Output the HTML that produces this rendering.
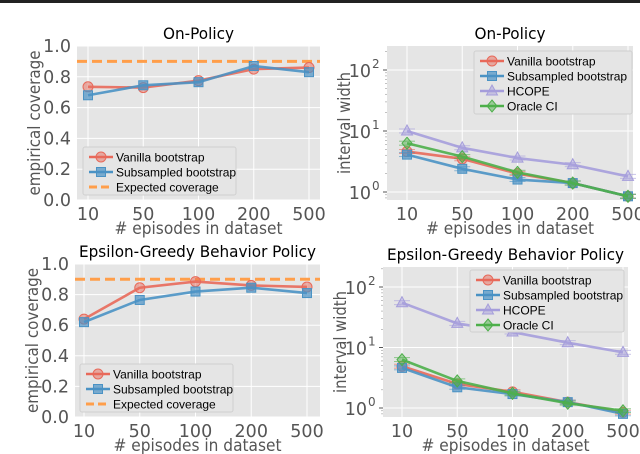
<!DOCTYPE html>
<html><head><meta charset="utf-8"><style>
body{margin:0;background:#fff;width:640px;height:454px;overflow:hidden}
svg{display:block;font-family:"DejaVu Sans","Liberation Sans",sans-serif}
</style></head><body>
<svg id="c" width="640" height="454" viewBox="0 0 640 454">
<rect x="0" y="0" width="640" height="3" fill="#222"/>
</svg>
<script>
const categories = ["10","50","100","200","500"];
const covTicks = ["0.0","0.2","0.4","0.6","0.8","1.0"];
const expectedCoverage = 0.9;
const onVanilla = [0.735,0.73,0.775,0.85,0.86];
const onSub = [0.68,0.745,0.765,0.87,0.83];
const egVanilla = [0.64,0.845,0.885,0.86,0.85];
const egSub = [0.62,0.765,0.82,0.845,0.81];
const onWVanilla = [4.6,3.5,2.0,1.4,0.85];
const onWSub = [4.1,2.4,1.6,1.4,0.85];
const onWHcope = [10,5.3,3.6,2.8,1.8];
const onWOracle = [6.3,3.8,2.1,1.4,0.85];
const egWVanilla = [4.9,2.5,1.85,1.25,0.85];
const egWSub = [4.6,2.2,1.7,1.25,0.8];
const egWHcope = [55,25,18,12,8.3];
const egWOracle = [6.3,2.8,1.75,1.2,0.9];
const seriesNames = ["Vanilla bootstrap","Subsampled bootstrap","HCOPE","Oracle CI","Expected coverage"];

const NS="http://www.w3.org/2000/svg";
const svg=document.getElementById('c');
function el(tag,attrs,parent,text){const e=document.createElementNS(NS,tag);for(const k in attrs)e.setAttribute(k,attrs[k]);if(text!==undefined)e.textContent=text;(parent||svg).appendChild(e);return e;}
const COL={v:"#e8695a",s:"#4a92c4",h:"#a59ddb",o:"#4daf4a",e:"#ff9e4a"};

function marker(g,type,x,y,c){
  let m;
  if(type==='v'){m=el('circle',{cx:x,cy:y,r:5,fill:c,'fill-opacity':0.5,stroke:c},g);}
  else if(type==='s'){m=el('rect',{x:x-4.5,y:y-4.5,width:9,height:9,fill:c,'fill-opacity':0.7,stroke:c},g);}
  else if(type==='h'){m=el('path',{d:`M${x} ${y-6}L${x+5.5} ${y+4}L${x-5.5} ${y+4}Z`,fill:c,'fill-opacity':0.5,stroke:c},g);}
  else {m=el('path',{d:`M${x} ${y-6}L${x+5} ${y}L${x} ${y+6}L${x-5} ${y}Z`,fill:c,'fill-opacity':0.5,stroke:c},g);}
  
  
}

function panel(p){
  const g=el('g',{},svg);
  
  
  el('rect',{x:p.x0,y:p.y0,width:p.x1-p.x0,height:p.y1-p.y0,fill:"#e5e5e5"},g);
  const xs=i=>p.xt[0]+i*(p.xt[1]-p.xt[0])/(categories.length-1);
  let ys;
  if(p.log){ys=v=>p.yDec0-Math.log10(v)*p.dec;}
  else{ys=v=>p.y1-v*(p.y1-p.y0);}
  if(p.log){
    for(let d=-1;d<=2;d++){for(let k=1;k<10;k++){const y=ys(k*Math.pow(10,d));if(y<p.y0||y>p.y1)continue;
      if(k===1){el('line',{x1:p.x0,x2:p.x1,y1:y,y2:y,stroke:"#fff","stroke-width":1},g);
        el('line',{x1:p.x0-4,x2:p.x0,y1:y,y2:y,stroke:"#555"},g);
        const t=el('text',{x:p.x0-16,y:y+7,'text-anchor':'end','font-size':17.5,fill:"#555"},g,"10");
        
        const e=el('text',{x:p.x0-15,y:y-2,'font-size':12,fill:"#555"},g,String(d));
        
      } else el('line',{x1:p.x0-2,x2:p.x0,y1:y,y2:y,stroke:"#999","stroke-width":0.6},g);
    }}
  } else {
    covTicks.forEach(s=>{const y=ys(parseFloat(s));
      el('line',{x1:p.x0,x2:p.x1,y1:y,y2:y,stroke:"#fff"},g);
      const t=el('text',{x:p.x0-6,y:y+6,'text-anchor':'end','font-size':17.5,fill:"#555"},g,s);
      });
  }
  categories.forEach((c,i)=>{const x=xs(i);
    el('line',{x1:x,x2:x,y1:p.y0,y2:p.y1,stroke:"#fff"},g);
    const t=el('text',{x:x,y:p.y1+20,'text-anchor':'middle','font-size':17.5,fill:"#555"},g,c);
    });
  const tt=el('text',{x:(p.x0+p.x1)/2,y:p.y0-7,'text-anchor':'middle','font-size':16,fill:"#000",textLength:p.tlen,lengthAdjust:'spacingAndGlyphs'},g,p.title);
  
  const xl=el('text',{x:(p.x0+p.x1)/2,y:p.y1+34,'text-anchor':'middle','font-size':17,fill:"#555",textLength:168,lengthAdjust:'spacingAndGlyphs'},g,"# episodes in dataset");
  
  const yl=el('text',{x:0,y:0,'text-anchor':'middle','font-size':17,fill:"#555",textLength:p.ylen,lengthAdjust:'spacingAndGlyphs',transform:`translate(${p.ylx},${(p.y0+p.y1)/2}) rotate(-90)`},g,p.ylabel);
  
  if(!p.log){const y=ys(expectedCoverage);
    const l=el('line',{x1:p.x0,x2:p.x1,y1:y,y2:y,stroke:COL.e,'stroke-width':3,'stroke-dasharray':'10,5'},g);
    }
  p.series.forEach(s=>{
    const pts=s.data.map((v,i)=>`${xs(i)},${ys(v)}`).join(' ');
    const pl=el('polyline',{points:pts,fill:'none',stroke:COL[s.t],'stroke-width':2.6,'stroke-opacity':0.9},g);
    
    s.data.forEach((v,i)=>{if(p.log){el('line',{x1:xs(i)-8,x2:xs(i)+8,y1:ys(v*1.08),y2:ys(v*1.08),stroke:COL[s.t],'stroke-opacity':0.6},g);el('line',{x1:xs(i)-8,x2:xs(i)+8,y1:ys(v*0.93),y2:ys(v*0.93),stroke:COL[s.t],'stroke-opacity':0.6},g);}
      marker(g,s.t,xs(i),ys(v),COL[s.t]);});
  });
  const L=p.leg;
  const lg=el('g',{},g);
  
  el('rect',{x:L.x,y:L.y,width:L.w,height:L.h,fill:"#e5e5e5",stroke:"#d0d0d0",rx:2},lg);
  L.items.forEach((t,i)=>{const y=L.y+10+i*15;
    if(t==='e'){el('line',{x1:L.x+6,x2:L.x+30,y1:y,y2:y,stroke:COL.e,'stroke-width':3,'stroke-dasharray':'8,4'},lg);}
    else{el('line',{x1:L.x+6,x2:L.x+30,y1:y,y2:y,stroke:COL[t],'stroke-width':2.6},lg);marker(lg,t,L.x+18,y,COL[t]);}
    const name={v:seriesNames[0],s:seriesNames[1],h:seriesNames[2],o:seriesNames[3],e:seriesNames[4]}[t];
    const tx=el('text',{x:L.x+33,y:y+4.5,'font-size':12,fill:"#000",'font-family':'Liberation Sans, sans-serif'},lg,name);
    });
}

panel({name:'on-policy-coverage',x0:77,x1:320,y0:46,y1:200,xt:[88,309],ylx:40,ylen:145,tlen:71,ylabel:'empirical coverage',title:'On-Policy',
  series:[{t:'v',data:onVanilla},{t:'s',data:onSub}],leg:{x:83,y:147,w:153,h:48,items:['v','s','e']}});
panel({name:'eg-coverage',x0:75,x1:320,y0:264,y1:417,xt:[84,307],ylx:38,ylen:145,tlen:237,ylabel:'empirical coverage',title:'Epsilon-Greedy Behavior Policy',
  series:[{t:'v',data:egVanilla},{t:'s',data:egSub}],leg:{x:80,y:364,w:153,h:48,items:['v','s','e']}});
panel({name:'on-policy-width',log:true,x0:387,x1:633,y0:46,y1:200,xt:[407,628],yDec0:192,dec:61,ylx:350,ylen:102,tlen:71,ylabel:'interval width',title:'On-Policy',
  series:[{t:'h',data:onWHcope},{t:'v',data:onWVanilla},{t:'s',data:onWSub},{t:'o',data:onWOracle}],leg:{x:474,y:51,w:158,h:63,items:['v','s','h','o']}});
panel({name:'eg-width',log:true,x0:383,x1:628,y0:267,y1:417,xt:[402,623],yDec0:408,dec:60.5,ylx:346,ylen:102,tlen:237,ylabel:'interval width',title:'Epsilon-Greedy Behavior Policy',
  series:[{t:'h',data:egWHcope},{t:'v',data:egWVanilla},{t:'s',data:egWSub},{t:'o',data:egWOracle}],leg:{x:470,y:270,w:154,h:62,items:['v','s','h','o']}});
</script>
</body></html>
